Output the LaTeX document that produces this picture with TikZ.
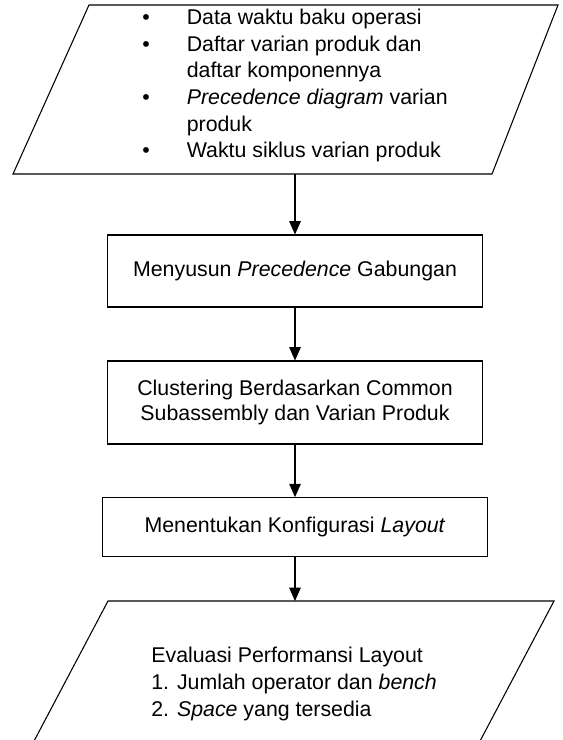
\documentclass[tikz,border=0pt]{standalone}
\usepackage{fontspec}
\setmainfont{Liberation Sans}
\usetikzlibrary{arrows.meta}
\usetikzlibrary{positioning}

\tikzset{
  process/.style={draw, line width=0.6pt, align=center, inner sep=2pt},
  flow/.style={draw, line width=0.6pt, -{Triangle[width=6.5pt,length=7.5pt]}},
  datashape/.style={draw, line width=0.6pt},
  datalist/.style={anchor=base west, align=left, inner sep=0, font=\fontsize{12}{15}\selectfont}
}

\begin{document}
\begin{tikzpicture}[x=0.5625pt, y=-0.5625pt, font=\fontsize{12}{13.8}\selectfont]

  \useasboundingbox (0,0) rectangle (563,740);
  \clip (0,0) rectangle (563,740);

  % input data
  \draw[datashape] (89,5) -- (558,5) -- (492,174) -- (13,174) -- cycle;
  \coordinate (indata) at (295,174);

  % base = last line of the list
  \node[datalist] (inlist) at (142,158) {%
    \makebox[25pt][l]{\textbullet}Data waktu baku operasi\\
    \makebox[25pt][l]{\textbullet}Daftar varian produk dan\\
    \hspace*{25pt}daftar komponennya\\
    \makebox[25pt][l]{\textbullet}\textit{Precedence diagram} varian\\
    \hspace*{25pt}produk\\
    \makebox[25pt][l]{\textbullet}Waktu siklus varian produk};

  % process steps
  \node[process, minimum width=211pt, minimum height=40.5pt] (merge) at (295,271)
    {Menyusun \textit{Precedence} Gabungan};
  \node[process, minimum width=211pt, minimum height=46.7pt] (cluster) at (295,402.5)
    {Clustering Berdasarkan Common\\Subassembly dan Varian Produk};
  \node[process, minimum width=217pt, minimum height=33pt] (config) at (295,527)
    {Menentukan Konfigurasi \textit{Layout}};

  % output evaluation
  \draw[datashape] (108,601) -- (554,601) -- (470,760) -- (24,760) -- cycle;
  \coordinate (outdata) at (295,601);

  \node[datalist] (evallist) at (151,716)
    {Evaluasi Performansi Layout\\
     1. Jumlah operator dan \textit{bench}\\
     2. \textit{Space} yang tersedia};

  \draw[flow] (indata) -- (merge);
  \draw[flow] (merge) -- (cluster);
  \draw[flow] (cluster) -- (config);
  \draw[flow] (config) -- (outdata);

\end{tikzpicture}
\end{document}
